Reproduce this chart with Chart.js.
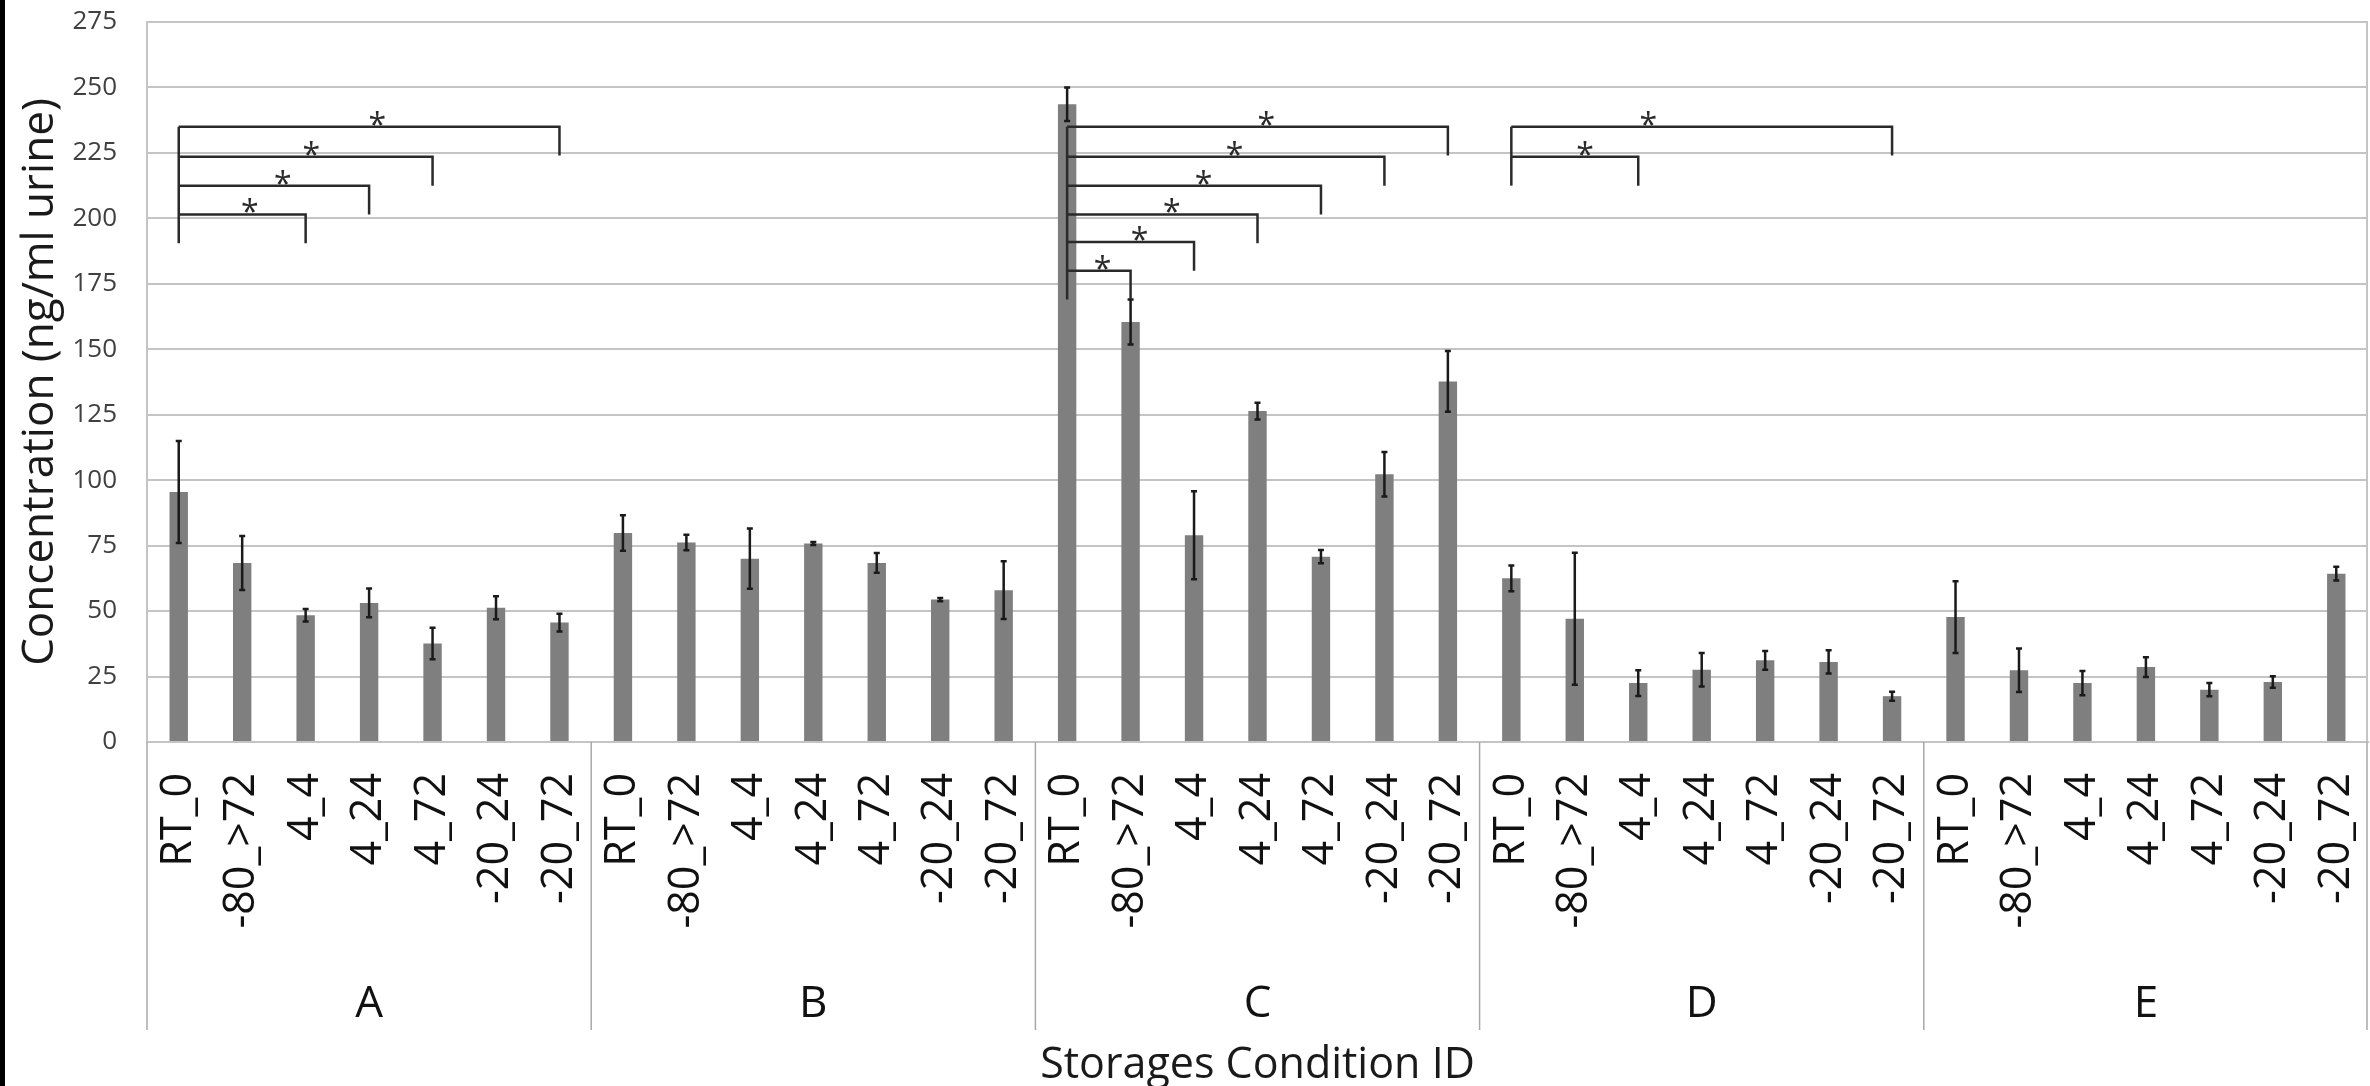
<!DOCTYPE html>
<html>
<head>
<meta charset="utf-8">
<script src="https://cdn.jsdelivr.net/npm/chart.js@4.4.1/dist/chart.umd.min.js"></script>
<style>
  html, body { margin: 0; padding: 0; background: #ffffff; }
  canvas { display: block; }
</style>
</head>
<body>
<canvas id="c" width="2370" height="1086"></canvas>
<script>
// ---- data ----
const groups = ['A', 'B', 'C', 'D', 'E'];
const conditions = ['RT_0', '-80_>72', '4_4', '4_24', '4_72', '-20_24', '-20_72'];

const valuesA = [95.5, 68.4, 48.4, 53.1, 37.6, 51.3, 45.6];
const errorsA = [19.5, 10.3, 2.4, 5.5, 6.0, 4.4, 3.4];
const valuesB = [79.8, 76.2, 70.0, 75.8, 68.4, 54.4, 58.0];
const errorsB = [6.8, 3.0, 11.5, 0.6, 3.8, 0.6, 11.0];
const valuesC = [243.6, 160.4, 79.0, 126.4, 70.8, 102.3, 137.7];
const errorsC = [6.4, 8.6, 16.8, 3.2, 2.5, 8.5, 11.6];
const valuesD = [62.5, 47.1, 22.5, 27.6, 31.2, 30.6, 17.5];
const errorsD = [4.9, 25.2, 4.9, 6.4, 3.6, 4.4, 1.7];
const valuesE = [47.7, 27.4, 22.5, 28.6, 20.0, 22.9, 64.3];
const errorsE = [13.7, 8.3, 4.6, 3.8, 2.5, 2.2, 2.6];

const yTicksMin = 0, yTicksMax = 275, yTickStep = 25;

// significance brackets (category indices, level in y units, star position in category units)
const bracketFrom  = [0, 0, 0, 0, 14, 14, 14, 14, 14, 14, 21, 21];
const bracketTo    = [6, 4, 3, 2, 20, 19, 18, 17, 16, 15, 27, 23];
const bracketLevel = [235, 223.5, 212.5, 201.5, 235, 223.5, 212.5, 201.5, 191, 180, 235, 223.5];
const bracketStar  = [3.13, 2.09, 1.64, 1.12, 17.14, 16.64, 16.15, 15.65, 15.14, 14.56, 23.16, 22.16];
const bracketDrop = 11;

const yTitle = 'Concentration (ng/ml urine)';
const xTitle = 'Storages Condition ID';

// ---- build library structures ----
const labels = [];
groups.forEach(() => conditions.forEach(c => labels.push(c)));
const values = [].concat(valuesA, valuesB, valuesC, valuesD, valuesE);
const errors = [].concat(errorsA, errorsB, errorsC, errorsD, errorsE);

const FONT = "'Open Sans', 'DejaVu Sans', sans-serif";

const annot = {
  id: 'annot',
  beforeDraw(chart) {
    const c = chart.ctx;
    c.save();
    c.fillStyle = '#ffffff';
    c.fillRect(0, 0, chart.width, chart.height);
    c.fillStyle = '#000000';
    c.fillRect(0, 0, 5, chart.height);
    c.restore();
  },
  afterDatasetsDraw(chart) {
    const c = chart.ctx;
    const xs = chart.scales.x, ys = chart.scales.y;
    const meta = chart.getDatasetMeta(0);
    c.save();
    // error bars
    c.strokeStyle = '#1a1a1a';
    c.lineWidth = 2.5;
    meta.data.forEach((el, i) => {
      const v = values[i], e = errors[i];
      const yt = ys.getPixelForValue(v + e), yb = ys.getPixelForValue(v - e);
      c.beginPath();
      c.moveTo(el.x, yt); c.lineTo(el.x, yb);
      c.moveTo(el.x - 3, yt); c.lineTo(el.x + 3, yt);
      c.moveTo(el.x - 3, yb); c.lineTo(el.x + 3, yb);
      c.stroke();
    });
    // brackets
    c.strokeStyle = '#2a2a2a';
    c.lineWidth = 2.5;
    const stems = {};
    bracketFrom.forEach((f, k) => {
      const x0 = xs.getPixelForValue(f), x1 = xs.getPixelForValue(bracketTo[k]);
      const yl = ys.getPixelForValue(bracketLevel[k]);
      const yd = ys.getPixelForValue(bracketLevel[k] - bracketDrop);
      c.beginPath();
      c.moveTo(x0, yl); c.lineTo(x1, yl); c.lineTo(x1, yd);
      c.stroke();
      const s = stems[f] || { top: -Infinity, bot: Infinity };
      s.top = Math.max(s.top, bracketLevel[k]);
      s.bot = Math.min(s.bot, bracketLevel[k] - bracketDrop);
      stems[f] = s;
    });
    Object.keys(stems).forEach(f => {
      const x0 = xs.getPixelForValue(Number(f));
      c.beginPath();
      c.moveTo(x0, ys.getPixelForValue(stems[f].top));
      c.lineTo(x0, ys.getPixelForValue(stems[f].bot));
      c.stroke();
    });
    c.fillStyle = '#2a2a2a';
    c.font = '32px ' + FONT;
    c.textAlign = 'center';
    c.textBaseline = 'alphabetic';
    const m = c.measureText('*');
    const desc = (typeof m.actualBoundingBoxDescent === 'number') ? m.actualBoundingBoxDescent : -10;
    bracketStar.forEach((s, k) => {
      const xp = xs.getPixelForValue(s);
      const yl = ys.getPixelForValue(bracketLevel[k]);
      c.fillText('*', xp, yl - 1 - desc);
    });
    c.restore();
  },
  afterDraw(chart) {
    const c = chart.ctx;
    const xs = chart.scales.x;
    const a = chart.chartArea;
    c.save();
    // right border of plot
    c.strokeStyle = '#c4c4c4';
    c.lineWidth = 2;
    c.beginPath();
    c.moveTo(a.right - 1, a.top); c.lineTo(a.right - 1, a.bottom);
    c.stroke();
    // group dividers and labels
    const n = conditions.length;
    c.strokeStyle = '#a8a8a8';
    c.lineWidth = 1.5;
    for (let g = 0; g <= groups.length; g++) {
      let xp = xs.getPixelForValue(g * n - 0.5);
      if (g === 0) xp = a.left;
      if (g === groups.length) xp = a.right - 1;
      c.beginPath();
      c.moveTo(xp, a.bottom); c.lineTo(xp, 1030);
      c.stroke();
    }
    c.fillStyle = '#111111';
    c.font = '44px ' + FONT;
    c.textAlign = 'center';
    c.textBaseline = 'alphabetic';
    groups.forEach((gname, g) => {
      const xp = xs.getPixelForValue(g * n + (n - 1) / 2);
      c.fillText(gname, xp, 1017);
    });
    c.restore();
  }
};

new Chart(document.getElementById('c'), {
  type: 'bar',
  data: {
    labels: labels,
    datasets: [{
      data: values,
      backgroundColor: '#7f7f7f',
      borderWidth: 0,
      categoryPercentage: 1.0,
      barPercentage: 0.29
    }]
  },
  options: {
    responsive: false,
    animation: false,
    devicePixelRatio: 1,
    layout: { padding: { top: 22, right: 2, left: 0, bottom: 0 } },
    plugins: { legend: { display: false }, tooltip: { enabled: false } },
    scales: {
      x: {
        offset: true,
        grid: { display: false, drawTicks: false },
        border: { display: true, color: '#c4c4c4', width: 2 },
        ticks: {
          autoSkip: false, minRotation: 90, maxRotation: 90, padding: 31,
          color: '#111111', font: { family: FONT, size: 43 }
        },
        title: {
          display: true, text: xTitle, color: '#1a1a1a',
          font: { family: FONT, size: 43 }, padding: { top: 0, bottom: -6 }
        },
        afterFit(s) { s.height = 344; s.paddingLeft = 0; s.paddingRight = 0; }
      },
      y: {
        min: yTicksMin, max: yTicksMax,
        ticks: { stepSize: yTickStep, padding: 30, color: '#404040', font: { family: FONT, size: 26 } },
        grid: { color: '#c4c4c4', lineWidth: 2, drawTicks: false },
        border: { display: true, color: '#c4c4c4', width: 2 },
        title: {
          display: true, text: yTitle, color: '#1a1a1a',
          font: { family: FONT, size: 44 }, padding: { top: 14, bottom: 0 }
        },
        afterFit(s) { s.width = 147; s.paddingTop = 0; s.paddingBottom = 0; }
      }
    }
  },
  plugins: [annot]
});
</script>
</body>
</html>
